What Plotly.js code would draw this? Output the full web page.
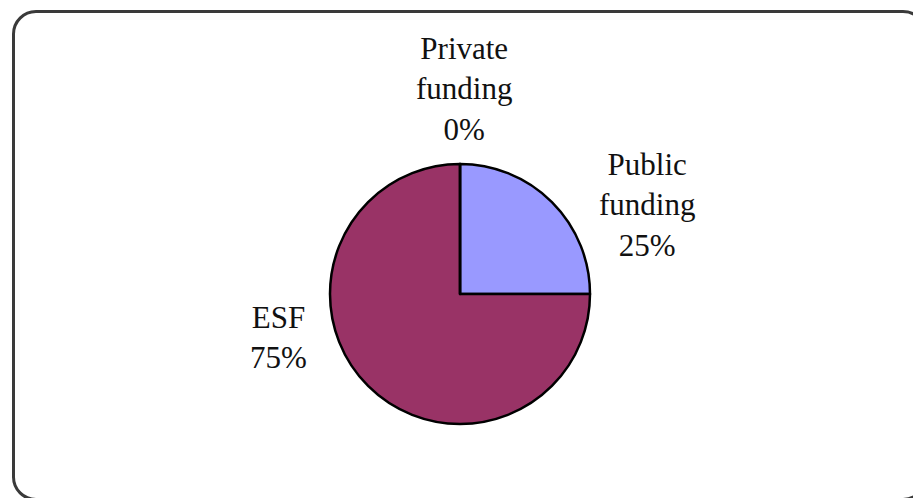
<!DOCTYPE html>
<html>
<head>
<meta charset="utf-8">
<script src="https://cdn.plot.ly/plotly-3.0.1.min.js"></script>
<style>
html,body{margin:0;padding:0;background:#fff;overflow:hidden;}
#wrap{position:relative;width:913px;height:498px;overflow:hidden;}
#chart{width:913px;height:498px;}
#frame{position:absolute;left:12px;top:10px;width:915px;height:491px;box-sizing:border-box;border:3px solid #3a3a3a;border-radius:24px;pointer-events:none;}
</style>
</head>
<body>
<div id="wrap"><div id="chart"></div><div id="frame"></div></div>
<script>
const categories = ["Public funding", "ESF", "Private funding"];
const values = [25, 75, 0];
const colors = ["#9999FF", "#993366", "#FFFFCC"];

const W = 913, H = 498;
const total = values.reduce((a, b) => a + b, 0);
const pct = values.map(v => Math.round(v / total * 100) + "%");

// label placements (pixel positions of label centres)
const labelPos = {
  "Public funding": [647, 205],
  "ESF": [278, 337],
  "Private funding": [464, 89]
};

const annotations = categories.map((c, i) => {
  const p = labelPos[c];
  return {
    xref: "paper", yref: "paper",
    x: p[0] / W, y: 1 - p[1] / H,
    xanchor: "center", yanchor: "middle",
    showarrow: false,
    text: c.split(" ").join("<br>") + "<br>" + pct[i],
    font: {family: "Liberation Serif, Times New Roman, serif", size: 31, color: "#111"},
    align: "center"
  };
});

const cx = 460, cy = 294, r = 130;
const trace = {
  type: "pie",
  labels: categories,
  values: values,
  sort: false,
  direction: "clockwise",
  rotation: 0,
  textinfo: "none",
  hoverinfo: "label+percent",
  marker: {colors: colors, line: {color: "#000", width: 2.5}},
  domain: {x: [(cx - r) / W, (cx + r) / W], y: [1 - (cy + r) / H, 1 - (cy - r) / H]},
  showlegend: false
};

Plotly.newPlot("chart", [trace], {
  width: W, height: H,
  margin: {l: 0, r: 0, t: 0, b: 0},
  paper_bgcolor: "#fff",
  showlegend: false,
  annotations: annotations
}, {displayModeBar: false, staticPlot: true});
</script>
</body>
</html>
